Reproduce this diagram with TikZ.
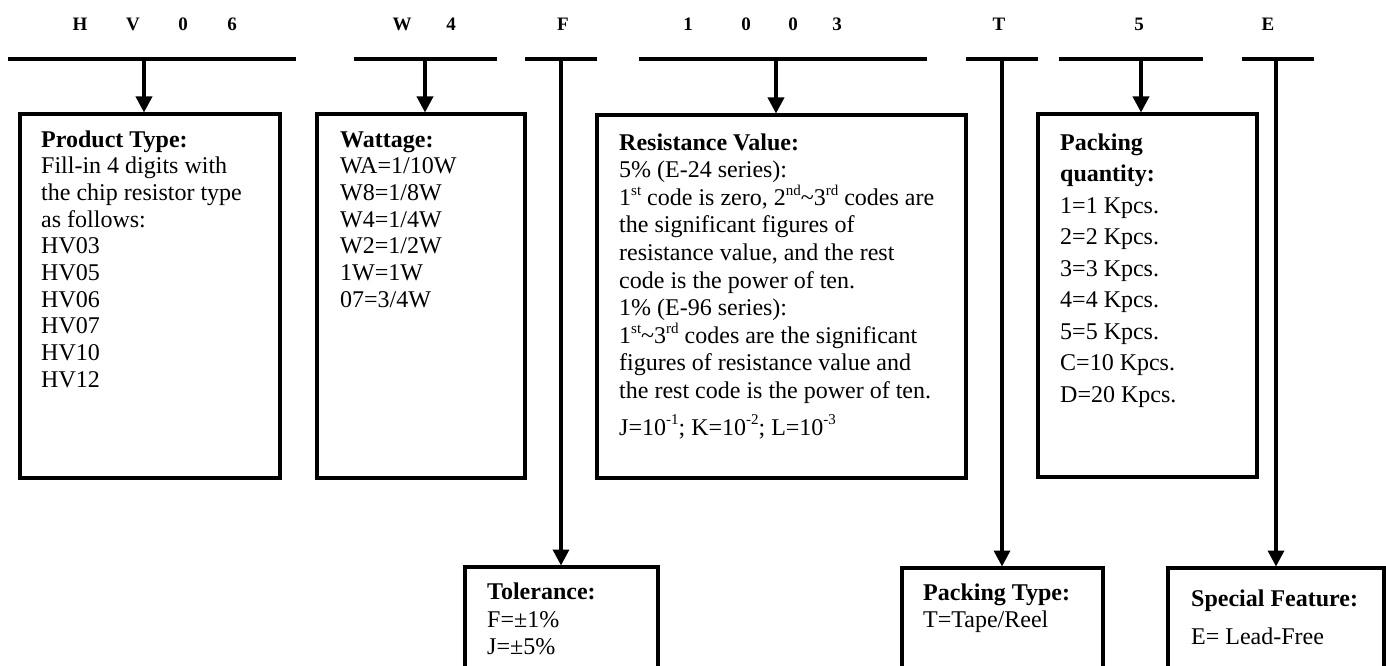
\documentclass[tikz,border=0pt]{standalone}
\usepackage{fontspec}
\setmainfont{Liberation Serif}
\usetikzlibrary{arrows.meta}
\newcommand{\mysup}[1]{\raisebox{0.42em}{\fontsize{15}{15}\selectfont #1}}
\tikzset{
  code/.style={font=\fontsize{19}{19}\selectfont\bfseries, inner sep=0pt, anchor=base},
  bar/.style={line width=4pt},
  box/.style={draw, line width=4pt, rectangle, inner sep=0pt, outer sep=0pt, anchor=north west},
  arr/.style={line width=3.5pt, -{Triangle[length=16pt,width=16pt]}, shorten >=1.5pt},
  ln/.style={font=\fontsize{24}{24}\selectfont, inner sep=0pt, anchor=base west},
  hd/.style={font=\fontsize{24}{24}\selectfont\bfseries, inner sep=0pt, anchor=base west}
}
\begin{document}
\begin{tikzpicture}[x=1pt,y=-1pt]
\useasboundingbox (0,0) rectangle (1386,666);
\clip (0,0) rectangle (1386,666);

% code letters
\node[code] (c1) at (80,31) {H};
\node[code] (c2) at (133,31) {V};
\node[code] (c3) at (183,31) {0};
\node[code] (c4) at (232,31) {6};
\node[code] (c5) at (402,31) {W};
\node[code] (c6) at (451,31) {4};
\node[code] (c7) at (563,31) {F};
\node[code] (c8) at (688,31) {1};
\node[code] (c9) at (746,31) {0};
\node[code] (c10) at (793,31) {0};
\node[code] (c11) at (837,31) {3};
\node[code] (c12) at (999,31) {T};
\node[code] (c13) at (1139,31) {5};
\node[code] (c14) at (1268,31) {E};

% bars
\draw[bar] (8,59) -- (296,59);
\draw[bar] (354,59) -- (497,59);
\draw[bar] (525,59) -- (597,59);
\draw[bar] (639,59) -- (927,59);
\draw[bar] (966,59) -- (1038,59);
\draw[bar] (1059,59) -- (1203,59);
\draw[bar] (1242,59) -- (1314,59);

\coordinate (a1) at (144,59);
\coordinate (a2) at (425,59);
\coordinate (a3) at (561,59);
\coordinate (a4) at (776,59);
\coordinate (a5) at (1002,59);
\coordinate (a6) at (1141,59);
\coordinate (a7) at (1276,59);

% boxes
\node[box, minimum width=260pt, minimum height=364pt] (pt) at (20,114) {};
\node[box, minimum width=208pt, minimum height=364pt] (wt) at (317,114) {};
\node[box, minimum width=369pt, minimum height=363pt] (rv) at (597,115) {};
\node[box, minimum width=219pt, minimum height=363pt] (pq) at (1038,114) {};
\node[box, minimum width=193pt, minimum height=140pt] (tol) at (465,567) {};
\node[box, minimum width=201pt, minimum height=140pt] (ptp) at (902,568) {};
\node[box, minimum width=216pt, minimum height=140pt] (sf) at (1168,568) {};

% connectors
\draw[arr] (a1) -- (a1 |- pt.north);
\draw[arr] (a2) -- (a2 |- wt.north);
\draw[arr] (a3) -- (a3 |- tol.north);
\draw[arr] (a4) -- (a4 |- rv.north);
\draw[arr] (a5) -- (a5 |- ptp.north);
\draw[arr] (a6) -- (a6 |- pq.north);
\draw[arr] (a7) -- (a7 |- sf.north);

% Product type
\node[hd] (pth) at (41,147) {Product Type:};
\foreach \t [count=\i] in {Fill-in 4 digits with, the chip resistor type, as follows:, HV03, HV05, HV06, HV07, HV10, HV12}
  \node[ln] (pt-\i) at (41,{147+26.67*\i}) {\t};

% Wattage
\node[hd] (wth) at (340,147) {Wattage:};
\foreach \t [count=\i] in {WA=1/10W, W8=1/8W, W4=1/4W, W2=1/2W, 1W=1W, 07=3/4W}
  \node[ln] (wt-\i) at (340,{147+26.67*\i}) {\t};

% Resistance value
\node[hd] (rvh) at (619,150) {Resistance Value:};
\foreach \t [count=\i] in {
  {5\% (E-24 series):},
  {1\mysup{st} code is zero, 2\mysup{nd}\textasciitilde3\mysup{rd} codes are},
  {the significant figures of},
  {resistance value, and the rest},
  {code is the power of ten.},
  {1\% (E-96 series):},
  {1\mysup{st}\textasciitilde3\mysup{rd} codes are the significant},
  {figures of resistance value and},
  {the rest code is the power of ten.}}
  \node[ln] (rv-\i) at (619,{150+27.6*\i}) {\t};
\node[ln] (rvj) at (619,435) {J=10\mysup{-1}; K=10\mysup{-2}; L=10\mysup{-3}};

% Packing quantity
\node[hd] (pqh1) at (1060,150) {Packing};
\node[hd] (pqh2) at (1060,181.5) {quantity:};
\foreach \t [count=\i] in {1=1 Kpcs., 2=2 Kpcs., 3=3 Kpcs., 4=4 Kpcs., 5=5 Kpcs., C=10 Kpcs., D=20 Kpcs.}
  \node[ln] (pq-\i) at (1060,{181.5+31.5*\i}) {\t};

% Tolerance
\node[hd] (tolh) at (487,599) {Tolerance:};
\node[ln] (tol1) at (487,627) {F=±1\%};
\node[ln] (tol2) at (487,654) {J=±5\%};

% Packing type
\node[hd] (ptph) at (923,600) {Packing Type:};
\node[ln] (ptp1) at (923,627) {T=Tape/Reel};

% Special feature
\node[hd] (sfh) at (1191,606) {Special Feature:};
\node[ln] (sf1) at (1191,644) {E= Lead-Free};
\end{tikzpicture}
\end{document}
